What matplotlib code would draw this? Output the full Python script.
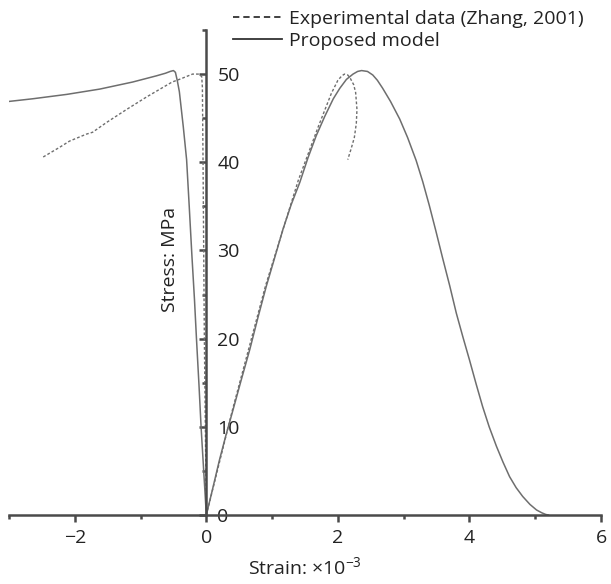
import numpy as np
import matplotlib
matplotlib.use("Agg")
import matplotlib.pyplot as plt
from matplotlib.ticker import MultipleLocator

plt.rcParams['font.family'] = ['Open Sans', 'DejaVu Sans']
plt.rcParams['mathtext.fontset'] = 'custom'
plt.rcParams['mathtext.rm'] = 'Open Sans'
plt.rcParams['mathtext.it'] = 'Open Sans'

# strain in 1e-3, stress in MPa
model_strain = [-3.0, -2.64, -2.12, -1.62, -1.12, -0.76, -0.62, -0.55, -0.50, -0.47,
                -0.44, -0.41, -0.35, -0.30, -0.26, -0.22, -0.18, -0.15, -0.11, -0.08,
                -0.04, 0.0,
                0.10, 0.20, 0.30, 0.405, 0.53, 0.66, 0.785, 0.91, 1.04, 1.165, 1.29,
                1.42, 1.545, 1.67, 1.80, 1.93, 2.03, 2.13, 2.23, 2.30, 2.36, 2.45,
                2.53, 2.60, 2.68, 2.80, 2.94, 3.06, 3.19, 3.29, 3.39, 3.49, 3.59,
                3.70, 3.80, 3.90, 4.00, 4.10, 4.20, 4.30, 4.41, 4.51, 4.61, 4.71,
                4.81, 4.92, 5.02, 5.10, 5.16, 5.2]
model_stress = [46.9, 47.2, 47.7, 48.3, 49.1, 49.8, 50.1, 50.3, 50.4, 50.2,
                49.2, 48.0, 44.0, 40.3, 35.0, 29.5, 24.4, 20.0, 14.5, 10.0,
                5.0, 0.0,
                3.1, 6.25, 9.1, 11.9, 15.3, 18.75, 22.4, 25.9, 29.2, 32.4, 35.2,
                37.7, 40.5, 43.0, 45.2, 47.2, 48.4, 49.4, 50.0, 50.3, 50.4, 50.3,
                49.9, 49.3, 48.4, 46.9, 44.9, 42.8, 40.2, 37.8, 35.1, 32.2, 29.2,
                26.0, 22.9, 20.2, 17.6, 14.9, 12.3, 10.0, 7.8, 6.0, 4.35, 3.1,
                2.1, 1.2, 0.57, 0.25, 0.06, 0.0]

exp_comp_strain = [-2.48, -2.23, -2.08, -1.82, -1.73, -1.52, -1.21, -0.91, -0.52,
                   -0.41, -0.21, -0.11, -0.07, -0.06, -0.05, -0.03, 0.0]
exp_comp_stress = [40.6, 41.7, 42.4, 43.2, 43.4, 44.5, 46.0, 47.4, 49.1,
                   49.4, 50.0, 50.0, 49.7, 48.5, 40.0, 20.0, 0.0]

exp_ten_strain = [0.0, 0.4, 0.9, 1.4, 1.7, 1.9, 2.0, 2.06, 2.1, 2.15, 2.19, 2.24,
                  2.27, 2.29, 2.28, 2.25, 2.2, 2.15]
exp_ten_stress = [0.0, 12.0, 26.0, 38.0, 44.0, 47.8, 49.3, 49.8, 50.0, 49.9, 49.5, 48.8,
                  47.9, 46.0, 44.4, 42.8, 41.5, 40.3]

fig = plt.figure(figsize=(6.11, 5.84), dpi=100)
ax = fig.add_axes([9 / 611, 1 - 515 / 584, 592 / 611, 485 / 584])

line_col = '#6e6e6e'
ax.plot(exp_comp_strain, exp_comp_stress, color=line_col, lw=1.0, ls=(0, (2, 1.5)),
        label='Experimental data (Zhang, 2001)')
ax.plot(exp_ten_strain, exp_ten_stress, color=line_col, lw=1.0, ls=(0, (2, 1.5)))
ax.plot(model_strain, model_stress, color=line_col, lw=1.1, label='Proposed model')

ax.set_xlim(-3, 6)
ax.set_ylim(0, 55)

spine_col = '#4a4a4a'
for side in ['top', 'right']:
    ax.spines[side].set_visible(False)
ax.spines['left'].set_position(('data', 0))
ax.spines['bottom'].set_position(('data', 0))
for side in ['left', 'bottom']:
    ax.spines[side].set_color(spine_col)
    ax.spines[side].set_linewidth(1.8)

ax.xaxis.set_major_locator(MultipleLocator(2))
ax.xaxis.set_minor_locator(MultipleLocator(1))
ax.yaxis.set_major_locator(MultipleLocator(10))
ax.yaxis.set_minor_locator(MultipleLocator(5))

ax.tick_params(axis='both', which='both', colors=spine_col, width=1.8,
               labelcolor='#222222', labelsize=14, direction='out')
ax.tick_params(axis='x', which='major', length=5, pad=5)
ax.tick_params(axis='x', which='minor', length=3)
ax.tick_params(axis='y', which='major', length=5, pad=-13)
ax.tick_params(axis='y', which='minor', length=3)
for lbl in ax.get_yticklabels():
    lbl.set_horizontalalignment('left')

ax.set_xlabel('Strain: ×10$^{-3}$', fontsize=14, color='#222222', labelpad=7)
ax.text(-0.55, 29.0, 'Stress: MPa', rotation=90, fontsize=14, color='#222222',
        ha='center', va='center')

leg = fig.legend(loc='upper left', bbox_to_anchor=(233 / 611, 1 - 10 / 584),
                 frameon=False, fontsize=14, handlelength=2.5, handletextpad=0.4,
                 labelspacing=0.2, borderpad=0, borderaxespad=0)
for txt in leg.get_texts():
    txt.set_color('#222222')
for h in leg.legend_handles:
    h.set_color('#333333')
    h.set_linewidth(1.3)
leg.legend_handles[0].set_linestyle((0, (3.5, 2.2)))

fig.savefig('out.png', dpi=100)
